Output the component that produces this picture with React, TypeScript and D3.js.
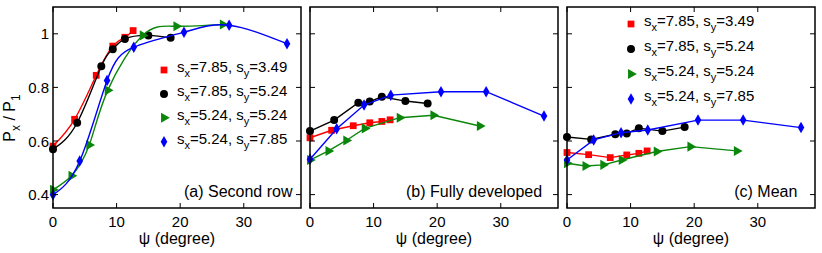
import React from 'react';
import * as d3 from 'd3';

// psi (degree) positions of each configuration
const psiRed = [0, 3.4, 6.8, 9.4, 11.3, 12.6];
const psiBlack = [0, 3.8, 7.6, 9.4, 11.3, 15, 18.5];
const psiGreen = [0, 2.9, 5.7, 8.6, 14.1, 19.4, 26.7];
const psiBlue = [0, 4.2, 8.5, 12.7, 20.6, 27.7, 36.8];

// (a) second row
const rowRed = [0.581, 0.681, 0.845, 0.954, 0.987, 1.012];
const rowBlack = [0.569, 0.668, 0.879, 0.942, 0.981, 0.994, 0.985];
const rowGreen = [0.418, 0.47, 0.585, 0.789, 0.994, 1.028, 1.035];
const rowBlue = [0.399, 0.525, 0.826, 0.95, 1.006, 1.032, 0.963];

// (b) fully developed
const fullRed = [0.612, 0.64, 0.657, 0.668, 0.673, 0.679];
const fullBlack = [0.637, 0.678, 0.743, 0.747, 0.765, 0.749, 0.74];
const fullGreen = [0.529, 0.563, 0.602, 0.647, 0.687, 0.696, 0.656];
const fullBlue = [0.532, 0.646, 0.734, 0.771, 0.784, 0.784, 0.693];

// (c) mean
const meanRed = [0.557, 0.549, 0.538, 0.548, 0.554, 0.563];
const meanBlack = [0.615, 0.606, 0.625, 0.628, 0.648, 0.637, 0.652];
const meanGreen = [0.517, 0.507, 0.511, 0.529, 0.561, 0.579, 0.563];
const meanBlue = [0.529, 0.604, 0.631, 0.641, 0.678, 0.678, 0.65];

const legendSx = ['7.85', '7.85', '5.24', '5.24'];
const legendSy = ['3.49', '5.24', '5.24', '7.85'];
const xTicks = [0, 10, 20, 30];
const yTicks = [0.4, 0.6, 0.8, 1];

const FONT = '"Liberation Sans", Arial, Helvetica, sans-serif';
const COLORS = ['#ff0000', '#000000', '#0a870a', '#0000ff'];
const W = 822, H = 253;
const top = 7, bottom = 208, pw = 248;
const lefts = [53, 310, 567];

const series = (reds: number[], blacks: number[], greens: number[], blues: number[]) => [
  { psi: psiRed, v: reds },
  { psi: psiBlack, v: blacks },
  { psi: psiGreen, v: greens },
  { psi: psiBlue, v: blues },
];

const panels = [
  { label: '(a) Second row', labelAt: 20.6, smooth: true, data: series(rowRed, rowBlack, rowGreen, rowBlue),
    legend: { x: 164, y: 70, dy: 23.9 } },
  { label: '(b) Fully developed', labelAt: 15.1, smooth: false, data: series(fullRed, fullBlack, fullGreen, fullBlue),
    legend: null },
  { label: '(c) Mean', labelAt: 26.3, smooth: false, data: series(meanRed, meanBlack, meanGreen, meanBlue),
    legend: { x: 631, y: 24, dy: 25 } },
];

const y = d3.scaleLinear().domain([0.35, 1.1]).range([bottom, top]);

const triPath = d3.symbol(d3.symbolTriangle, 44)()!;
const diaPath = d3.symbol(d3.symbolDiamond, 38)()!;
const sqPath = d3.symbol(d3.symbolSquare, 46)()!;
const circPath = d3.symbol(d3.symbolCircle, 50)()!;

function Marker({ k, cx, cy }: { k: number; cx: number; cy: number }) {
  const c = COLORS[k];
  if (k === 0) return <path d={sqPath} transform={`translate(${cx},${cy})`} fill={c} />;
  if (k === 1) return <path d={circPath} transform={`translate(${cx},${cy})`} fill={c} />;
  if (k === 2) return <path d={triPath} transform={`translate(${cx},${cy}) rotate(90)`} fill={c} />;
  return <path d={diaPath} transform={`translate(${cx},${cy})`} fill={c} />;
}

function Panel({ idx }: { idx: number }) {
  const p = panels[idx];
  const x0 = lefts[idx];
  const x = d3.scaleLinear().domain([0, 39]).range([x0, x0 + pw]);
  const line = d3.line<[number, number]>()
    .x(d => x(d[0]))
    .y(d => y(d[1]))
    .curve(p.smooth ? d3.curveNatural : d3.curveLinear);

  return (
    <g>
      {p.data.map((s, k) => {
        const pts = s.psi.map((v, i) => [v, s.v[i]] as [number, number]);
        return (
          <g key={k}>
            <path d={line(pts)!} fill="none" stroke={COLORS[k]} strokeWidth={1.4} />
            {pts.map((d, i) => <Marker key={i} k={k} cx={x(d[0])} cy={y(d[1])} />)}
          </g>
        );
      })}
      {/* frame */}
      <rect x={x0} y={top} width={pw} height={bottom - top} fill="none" stroke="#000" strokeWidth={1.5} />
      {xTicks.map(t => (
        <g key={t}>
          <line x1={x(t)} x2={x(t)} y1={bottom} y2={bottom - 5} stroke="#000" strokeWidth={1} />
          <line x1={x(t)} x2={x(t)} y1={top} y2={top + 5} stroke="#000" strokeWidth={1} />
          <text x={x(t)} y={226.5} textAnchor="middle" fontSize={15}>{t}</text>
        </g>
      ))}
      {yTicks.map(t => (
        <g key={t}>
          <line x1={x0} x2={x0 + 5} y1={y(t)} y2={y(t)} stroke="#000" strokeWidth={1} />
          <line x1={x0 + pw} x2={x0 + pw - 5} y1={y(t)} y2={y(t)} stroke="#000" strokeWidth={1} />
          {idx === 0 && (
            <text x={x0 - 4} y={y(t) + 5.5} textAnchor="end" fontSize={15}>{t}</text>
          )}
        </g>
      ))}
      <text x={x0 + pw / 2} y={244} textAnchor="middle" fontSize={16}>ψ (degree)</text>
      <text x={x(p.labelAt)} y={197} fontSize={16}>{p.label}</text>
      {p.legend && legendSx.map((sx, k) => {
        const ly = p.legend!.y + k * p.legend!.dy;
        return (
          <g key={k}>
            <Marker k={k} cx={p.legend!.x} cy={ly} />
            <text x={p.legend!.x + 13} y={ly + 2} fontSize={15}>
              s<tspan fontSize={11} dy={5}>x</tspan>
              <tspan dy={-5}>={sx}, s</tspan>
              <tspan fontSize={11} dy={5}>y</tspan>
              <tspan dy={-5}>={legendSy[k]}</tspan>
            </text>
          </g>
        );
      })}
    </g>
  );
}

export default function App() {
  return (
    <div style={{ position: 'absolute', left: 0, top: 0 }}>
      <svg width={W} height={H} style={{ display: 'block', background: '#fff' }} fontFamily={FONT}>
        {panels.map((_, i) => <Panel key={i} idx={i} />)}
        <text transform="translate(15,118) rotate(-90)" textAnchor="middle" fontSize={16}>
          P<tspan fontSize={12} dy={5}>x</tspan>
          <tspan dy={-5}> / P</tspan>
          <tspan fontSize={12} dy={5}>1</tspan>
        </text>
      </svg>
    </div>
  );
}
